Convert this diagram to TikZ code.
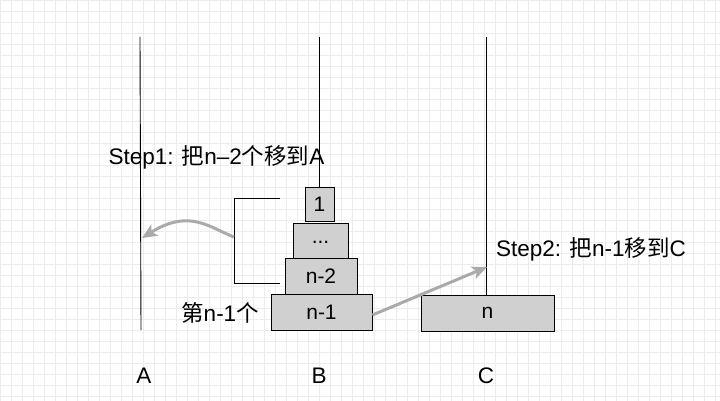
\documentclass[tikz,border=0pt]{standalone}
\usepackage{fontspec}
\setmainfont{Liberation Sans}
\newfontfamily\cjk{Noto Sans CJK SC}
\usetikzlibrary{arrows.meta}
\definecolor{diskfill}{RGB}{208,208,208}
\definecolor{arrowgray}{RGB}{170,170,170}
\definecolor{gridgray}{RGB}{236,236,236}
\tikzset{
  disk/.style={draw=black, line width=0.9pt, fill=diskfill, inner sep=0pt, font=\fontsize{21}{21}\selectfont},
  pole/.style={line width=0.9pt},
  movearrow/.style={draw=arrowgray, line width=3pt, -{Stealth[length=15pt,width=13pt,inset=4pt]}},
  lbl/.style={font=\fontsize{22.5}{22.5}\selectfont, inner sep=0pt},
}
\begin{document}
\begin{tikzpicture}[x=1pt,y=-1pt]
\useasboundingbox (0,0) rectangle (720,401);
\fill[white] (0,0) rectangle (720,401);
\draw[gridgray, line width=0.6pt, step=11pt] (0,0) grid (720,401);
% poles
\coordinate (Atop) at (140,37);
\coordinate (Abot) at (141,330);
\coordinate (Btop) at (319,37);
\coordinate (Ctop) at (486,37);
% disks
\node[disk, minimum width=29pt, minimum height=34pt] (d1) at (319.5,204) {1};
\node[disk, minimum width=55pt, minimum height=35pt] (dd) at (320.5,240.5) {\raisebox{-6pt}{...}};
\node[disk, minimum width=72pt, minimum height=36pt] (dn2) at (321,276) {n-2};
\node[disk, minimum width=101pt, minimum height=36pt] (dn1) at (321.5,312) {n-1};
\node[disk, minimum width=133pt, minimum height=36pt] (dn) at (487.5,313) {n};
\draw[pole] (Atop) -- (Abot);
\draw[pole] (Btop) -- (d1.north -| Btop);
\draw[pole] (Ctop) -- (dn.north -| Ctop);
% bracket
\coordinate (brt) at (280,198);
\coordinate (brb) at (280,283);
\coordinate (brm) at (234,237);
\draw[line width=0.9pt] (brt) -- (234,198) -- (234,283) -- (brb);
% arrows
\coordinate (Aarr) at (142,238);
\coordinate (Carr) at (487,267);
\draw[movearrow] (brm) .. controls (210,228) and (190,208) .. (Aarr);
\draw[movearrow] ([yshift=-3pt]dn1.east) -- (Carr);
% labels
\node[lbl] (s1) at (216.5,157) {Step1: {\cjk 把}n--2{\cjk 个移到}A};
\node[lbl] (s2) at (591,249) {Step2: {\cjk 把}n-1{\cjk 移到}C};
\node[lbl] (k) at (220,313) {{\cjk 第}n-1{\cjk 个}};
\node[lbl] (la) at (144,376) {A};
\node[lbl] (lb) at (319,376) {B};
\node[lbl] (lc) at (486,376) {C};
\end{tikzpicture}
\end{document}
